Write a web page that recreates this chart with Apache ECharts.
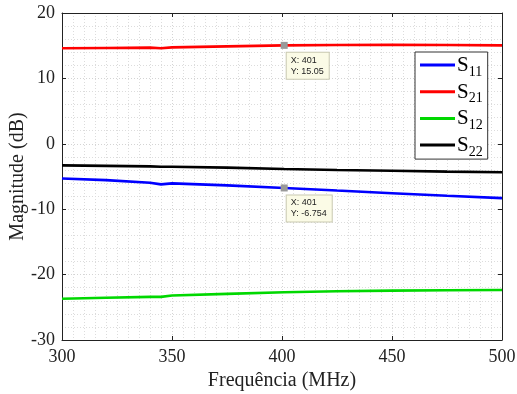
<!DOCTYPE html>
<html><head><meta charset="utf-8">
<script src="https://cdn.jsdelivr.net/npm/echarts@6/dist/echarts.min.js"></script>
<style>html,body{margin:0;padding:0;background:#fff}#c{width:517px;height:394px}</style>
</head><body><div id="c"></div>
<script>
const freq = [300, 320, 340, 345, 350, 375, 401, 425, 450, 475, 500];
const S11 = [-5.3, -5.55, -5.95, -6.2, -6.05, -6.35, -6.754, -7.15, -7.55, -7.95, -8.3];
const S21 = [14.6, 14.65, 14.7, 14.6, 14.75, 14.9, 15.05, 15.1, 15.12, 15.1, 15.05];
const S12 = [-23.7, -23.55, -23.4, -23.4, -23.2, -22.95, -22.7, -22.55, -22.45, -22.4, -22.35];
const S22 = [-3.3, -3.38, -3.45, -3.5, -3.5, -3.65, -3.85, -4.0, -4.12, -4.25, -4.35];
const xTicks = [300, 350, 400, 450, 500];
const yTicks = [-30, -20, -10, 0, 10, 20];
const tips = [{name: 'S21', x: 401, y: 15.05}, {name: 'S11', x: 401, y: -6.754}];

const serif = '"Liberation Serif", "DejaVu Serif", serif';
const names = ['S11', 'S21', 'S12', 'S22'];
const vals = {S11, S21, S12, S22};
const colors = {S11: '#0000ff', S21: '#ff0000', S12: '#00d800', S22: '#000000'};

const chart = echarts.init(document.getElementById('c'), null, {renderer: 'canvas'});
const series = names.map(n => {
  const s = {
    name: n, type: 'line', data: freq.map((f, i) => [f, vals[n][i]]),
    showSymbol: false, symbol: 'none', lineStyle: {width: 2.6, color: colors[n]},
    itemStyle: {color: colors[n]}, z: 3, animation: false
  };
  const t = tips.filter(t => t.name === n);
  if (t.length) {
    s.markPoint = {
      symbol: 'rect', symbolSize: 7, itemStyle: {color: '#999999'},
      data: t.map(p => ({coord: [p.x, p.y], value: p.y})),
      label: {
        show: true, position: 'insideTopLeft', offset: [1, 6],
        formatter: p => 'X: ' + p.data.coord[0] + '\nY: ' + p.data.coord[1],
        fontFamily: 'Arial, "Liberation Sans", sans-serif', fontSize: 9, color: '#222',
        lineHeight: 11, backgroundColor: '#fbfbe6', borderColor: '#c8c8b0', borderWidth: 1,
        padding: [2, 5, 2, 4], align: 'left', verticalAlign: 'top'
      }, animation: false, z: 5
    };
  }
  return s;
});

chart.setOption({
  animation: false,
  grid: {left: 62, top: 13, right: 15, bottom: 54, containLabel: false, outerBoundsMode: 'none'},
  legend: {
    data: names, orient: 'vertical', left: 415, top: 52,
    backgroundColor: '#fff', borderColor: '#333', borderWidth: 1,
    padding: [3, 5, 0, 5], itemGap: 2.7, itemWidth: 35, itemHeight: 3,
    icon: 'rect',
    formatter: n => '{s|S}{sub|' + n.slice(1) + '}',
    textStyle: {fontFamily: serif, color: '#000', padding: [0, 0, 0, -3],
      rich: {
        s: {fontFamily: serif, fontSize: 21, lineHeight: 20, verticalAlign: 'top', color: '#000'},
        sub: {fontFamily: serif, fontSize: 14, lineHeight: 14, verticalAlign: 'top', padding: [10, 0, 0, 0], color: '#000'}
      }}
  },
  xAxis: [{
    type: 'value', min: 300, max: 500, interval: 50,
    name: 'Frequência (MHz)', nameLocation: 'middle', nameGap: 31, nameMoveOverlap: false,
    nameTextStyle: {fontFamily: serif, fontSize: 20, color: '#222'},
    axisLine: {onZero: false, lineStyle: {color: '#222', width: 1}},
    axisTick: {inside: true, length: 4, lineStyle: {color: '#222'}},
    axisLabel: {fontFamily: serif, fontSize: 18, color: '#222', margin: 8},
    splitLine: {show: true, lineStyle: {color: '#d4d4d4', type: [1, 2], width: 1}},
    minorTick: {show: false, splitNumber: 10},
    minorSplitLine: {show: true, lineStyle: {color: '#dcdcdc', type: [1, 2], width: 1}}
  }, {
    type: 'value', position: 'top', min: 300, max: 500, interval: 50,
    axisLine: {show: true, onZero: false, lineStyle: {color: '#222'}},
    axisTick: {show: true, inside: true, length: 4, lineStyle: {color: '#222'}},
    axisLabel: {show: false}, splitLine: {show: false}
  }],
  yAxis: [{
    type: 'value', min: -30, max: 20, interval: 10,
    name: 'Magnitude (dB)', nameLocation: 'middle', nameGap: 34, nameMoveOverlap: false,
    nameTextStyle: {fontFamily: serif, fontSize: 20, color: '#222'},
    axisLine: {show: true, onZero: false, lineStyle: {color: '#222', width: 1}},
    axisTick: {show: true, inside: true, length: 4, lineStyle: {color: '#222'}},
    axisLabel: {fontFamily: serif, fontSize: 18, color: '#222', margin: 7},
    splitLine: {show: true, lineStyle: {color: '#d4d4d4', type: [1, 2], width: 1}},
    minorTick: {show: false, splitNumber: 5},
    minorSplitLine: {show: true, lineStyle: {color: '#dcdcdc', type: [1, 2], width: 1}}
  }, {
    type: 'value', position: 'right', min: -30, max: 20, interval: 10,
    axisLine: {show: true, onZero: false, lineStyle: {color: '#222'}},
    axisTick: {show: true, inside: true, length: 4, lineStyle: {color: '#222'}},
    axisLabel: {show: false}, splitLine: {show: false}
  }],
  series: series
});
</script></body></html>
